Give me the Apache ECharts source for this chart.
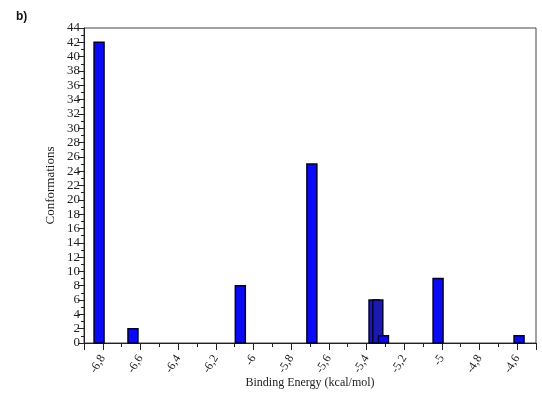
<!DOCTYPE html>
<html>
<head>
<meta charset="utf-8">
<script src="https://cdn.jsdelivr.net/npm/echarts@6/dist/echarts.min.js"></script>
<style>
html,body{margin:0;padding:0;background:#fff;}
#c{width:542px;height:397px;}
</style>
</head>
<body>
<div id="c"></div>
<script>
// Data
var energies = [-6.82, -6.64, -6.07, -5.69, -5.36, -5.34, -5.31, -5.02, -4.59];
var counts   = [42, 2, 8, 25, 6, 6, 1, 9, 1];
var yTicks = [0, 44, 2];        // min, max, step
var xRange = [-6.9, -4.5];
var BIN = 0.053;

var data = energies.map(function (e, i) { return [e, counts[i]]; });

function overlapsEqual(i) {
  for (var j = 0; j < energies.length; j++) {
    if (j !== i && Math.abs(energies[j] - energies[i]) < BIN && counts[j] === counts[i]) return true;
  }
  return false;
}

var chart = echarts.init(document.getElementById('c'), null, {renderer: 'canvas'});
var serif = '"Liberation Serif", "DejaVu Serif", serif';
chart.setOption({
  animation: false,
  backgroundColor: '#fff',
  title: {
    text: 'b)', left: 11, top: 6,
    textStyle: {fontFamily: '"Liberation Sans", Arial, sans-serif', fontWeight: 'bold', fontSize: 12, color: '#111'}
  },
  grid: {left: 84, right: 6, top: 28, bottom: 54, show: true, borderColor: '#444', borderWidth: 1,
         containLabel: false, outerBoundsMode: 'none'},
  xAxis: {
    type: 'value', min: xRange[0], max: xRange[1], splitNumber: 12,
    name: 'Binding Energy (kcal/mol)', nameLocation: 'middle', nameGap: 34, nameMoveOverlap: false,
    nameTextStyle: {fontFamily: serif, fontSize: 12, color: '#222'},
    axisLine: {show: true, lineStyle: {color: '#222', width: 1}},
    axisTick: {show: true, length: 7, lineStyle: {color: '#222'}},
    minorTick: {show: true, splitNumber: 2, length: 4, lineStyle: {color: '#222'}},
    splitLine: {show: false},
    axisLabel: {
      rotate: 58, margin: 13, fontFamily: serif, fontSize: 12, color: '#222',
      showMinLabel: false, showMaxLabel: false,
      formatter: function (v) {
        var r = Math.round(v * 10) / 10;
        if (Math.abs(r - xRange[0]) < 1e-6 || Math.abs(r - xRange[1]) < 1e-6) return '';
        return String(r).replace('.', ',');
      }
    }
  },
  yAxis: {
    type: 'value', min: yTicks[0], max: yTicks[1], interval: yTicks[2],
    name: 'Conformations', nameLocation: 'middle', nameGap: 27, nameMoveOverlap: false,
    nameTextStyle: {fontFamily: serif, fontSize: 13, color: '#222'},
    axisLine: {show: true, lineStyle: {color: '#222', width: 1}},
    axisTick: {show: true, length: 6, lineStyle: {color: '#222'}},
    minorTick: {show: true, splitNumber: 2, length: 3, lineStyle: {color: '#222'}},
    splitLine: {show: false},
    axisLabel: {margin: 4, fontFamily: serif, fontSize: 13, color: '#222'}
  },
  series: [{
    type: 'custom',
    data: data,
    renderItem: function (params, api) {
      var x = api.value(0), y = api.value(1);
      var p0 = api.coord([x - BIN / 2, y]);
      var p1 = api.coord([x + BIN / 2, 0]);
      var dark = overlapsEqual(params.dataIndex);
      return {
        type: 'rect',
        shape: {x: p0[0], y: p0[1], width: p1[0] - p0[0], height: p1[1] - p0[1]},
        style: {fill: dark ? '#1a1ab0' : '#0a0af5', stroke: '#000030', lineWidth: 1.5}
      };
    }
  }]
});
</script>
</body>
</html>
